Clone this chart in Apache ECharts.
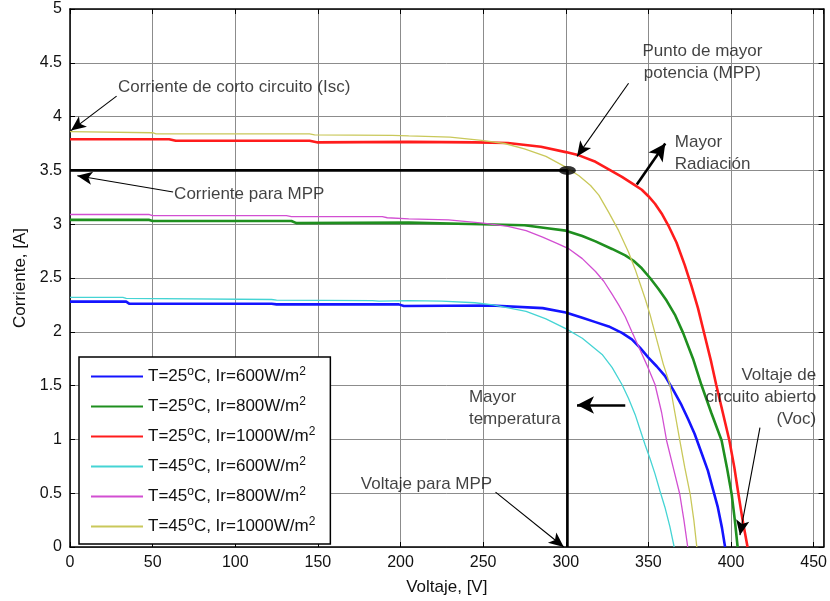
<!DOCTYPE html>
<html>
<head>
<meta charset="utf-8">
<title>Curvas I-V</title>
<script src="https://cdn.jsdelivr.net/npm/echarts@6/dist/echarts.min.js"></script>
<style>
html, body { margin: 0; padding: 0; background: #fff; }
#main { width: 830px; height: 601px; }
</style>
</head>
<body>
<div id="main"></div>
<script>
// curvas I-V: [voltaje V, corriente A]
var temps = [25, 25, 25, 45, 45, 45];
var irrad = [600, 800, 1000, 600, 800, 1000];

var curve25_600 = [[0,2.28],[34,2.28],[36,2.26],[122,2.26],[125,2.255],[199,2.255],[202,2.24],[255,2.245],[286,2.22],[300,2.18],[310,2.13],[318,2.09],[326,2.05],[334,1.99],[340,1.93],[345,1.85],[350,1.76],[355,1.68],[360,1.59],[365,1.46],[370,1.32],[374,1.19],[378,1.05],[382,0.88],[386,0.71],[389,0.54],[392,0.37],[394.5,0.18],[396.4,0]];
var curve25_800 = [[0,3.04],[48,3.04],[50,3.03],[134,3.03],[137,3.01],[205,3.015],[249,3.0],[275,2.99],[290,2.96],[300,2.94],[310,2.89],[318,2.84],[328,2.77],[336,2.71],[341,2.66],[346,2.59],[351,2.50],[356,2.40],[361,2.29],[366,2.16],[371,1.99],[377,1.75],[382,1.51],[388,1.25],[394.3,0.99],[397.5,0.74],[400.4,0.49],[402.3,0.25],[404,0]];
var curve25_1000 = [[0,3.79],[60,3.79],[64,3.775],[145,3.775],[150,3.76],[205,3.765],[245,3.76],[265,3.755],[285,3.72],[300,3.67],[308,3.64],[318,3.58],[326,3.51],[334,3.44],[342,3.36],[346,3.32],[350,3.26],[354,3.19],[358,3.10],[362,2.99],[367,2.83],[372,2.62],[376,2.43],[380,2.22],[384,1.97],[388,1.72],[391,1.51],[395,1.25],[399,0.99],[402,0.74],[404.5,0.49],[407,0.25],[410,0]];
var curve45_600 = [[0,2.32],[32,2.32],[34,2.31],[122,2.30],[125,2.295],[183,2.29],[187,2.285],[205,2.29],[225,2.285],[245,2.27],[256,2.25],[266,2.22],[276,2.19],[288,2.12],[300,2.03],[310,1.94],[322,1.79],[328,1.67],[334,1.51],[338,1.38],[342,1.23],[345,1.09],[348,0.95],[351,0.82],[354,0.68],[357,0.52],[360,0.37],[363,0.19],[365.6,0]];
var curve45_800 = [[0,3.09],[48,3.09],[50,3.08],[131,3.08],[134,3.07],[189,3.07],[192,3.06],[205,3.05],[229,3.04],[250,3.01],[265,2.98],[276,2.94],[286,2.88],[295,2.82],[302,2.77],[310,2.68],[318,2.56],[323,2.47],[328,2.35],[332,2.25],[336,2.14],[340,2.0],[345,1.83],[350,1.66],[354,1.51],[358,1.25],[361,0.99],[365,0.74],[369,0.49],[371.5,0.25],[373.8,0]];
var curve45_1000 = [[0,3.86],[50,3.85],[52,3.84],[145,3.84],[148,3.83],[195,3.825],[205,3.82],[230,3.81],[249,3.78],[263,3.75],[275,3.70],[288,3.63],[300,3.53],[308,3.45],[315,3.36],[320,3.27],[326,3.11],[332,2.94],[338,2.74],[342,2.58],[346,2.40],[348,2.31],[351,2.16],[355,1.93],[359,1.70],[363,1.51],[366,1.25],[369,0.99],[372,0.74],[375.3,0.49],[377.5,0.25],[379.3,0]];
var curves = [curve25_600, curve25_800, curve25_1000, curve45_600, curve45_800, curve45_1000];

var colors = ['#1414ff', '#1f8f1f', '#ff1c1c', '#45d4d4', '#d24fd2', '#c9c85a'];
var widths = [2.6, 2.6, 2.6, 1.3, 1.3, 1.3];

// punto de maxima potencia
var mppPath = [[0,3.5],[301,3.5],[301,0]];
var mppPoint = [301, 3.5];

// anotaciones
var notesText = ['Corriente de corto circuito (Isc)', 'Corriente para MPP', 'Punto de mayor\npotencia (MPP)', 'Mayor\nRadiación', 'Mayor\ntemperatura', 'Voltaje de\ncircuito abierto\n(Voc)', 'Voltaje para MPP'];
var notesAt = [[29,4.27],[63,3.28],[382.7,4.5],[366,3.66],[241.4,1.29],[451.5,1.39],[176,0.58]];
var notesAlign = ['left', 'left', 'center', 'left', 'left', 'right', 'left'];
var arrowFrom = [[28.2,4.19],[62.4,3.30],[338,4.31],[343,3.37],[336,1.32],[417.5,1.11],[257.5,0.51]];
var arrowTo = [[0.6,3.87],[4.4,3.45],[306.8,3.63],[360.2,3.75],[306.8,1.32],[405.4,0.11],[298.8,0.0]];
var arrowBold = [false, false, false, true, true, false, false];

var font = 'Liberation Sans, Arial, sans-serif';
var ink = '#111';
var names = temps.map(function (t, i) { return 'T=' + t + '°C, Ir=' + irrad[i] + 'W/m2'; });

var series = curves.map(function (c, i) {
  return {
    name: names[i], type: 'line', data: c, showSymbol: false, symbol: 'none',
    color: colors[i], lineStyle: { width: widths[i], color: colors[i] }, z: 3
  };
});

series.push({
  name: 'mpp', type: 'line', data: mppPath, symbol: 'none', showSymbol: false,
  lineStyle: { color: '#000', width: 2.6 }, z: 4
});
series.push({
  name: 'mppPunto', type: 'scatter', data: [mppPoint], symbol: 'circle',
  symbolSize: [17, 9], itemStyle: { color: '#000' }, z: 5
});

series.push({
  name: 'notas', type: 'scatter', symbolSize: 0, silent: true, z: 6,
  data: notesText.map(function (t, i) {
    return { name: t, value: notesAt[i], label: { align: notesAlign[i] } };
  }),
  label: {
    show: true, position: 'inside', formatter: '{b}', verticalAlign: 'middle',
    color: ink, fontSize: 17, lineHeight: 22, fontFamily: font
  },
  markLine: {
    silent: true, animation: false, symbol: ['none', 'arrow'],
    label: { show: false },
    data: arrowFrom.map(function (p, i) {
      var ls = { color: '#000', type: 'solid', width: arrowBold[i] ? 2.6 : 1.1 };
      return [
        { coord: p, symbol: 'none', lineStyle: ls },
        { coord: arrowTo[i], symbol: 'arrow', symbolSize: arrowBold[i] ? [13, 17] : [10, 15], lineStyle: ls }
      ];
    })
  }
});

var chart = echarts.init(document.getElementById('main'));
chart.setOption({
  animation: false,
  backgroundColor: '#fff',
  textStyle: { fontFamily: font },
  grid: { left: 70, right: 5, top: 9, bottom: 51 },
  legend: {
    data: names, orient: 'vertical', left: 79, top: 357,
    itemWidth: 52, itemHeight: 14, itemGap: 11,
    itemStyle: { opacity: 0 },
    backgroundColor: '#fff', borderColor: '#000', borderWidth: 1.5,
    padding: [9, 15, 9, 11],
    formatter: function (name) {
      var i = names.indexOf(name);
      return '{t|T=' + temps[i] + '}{s|o}{t|C, Ir=' + irrad[i] + 'W/m}{s|2}';
    },
    textStyle: {
      rich: {
        t: { fontSize: 17, color: ink, fontFamily: font },
        s: { fontSize: 12, color: ink, fontFamily: font, padding: [0, 0, 9, 0] }
      }
    }
  },
  xAxis: [{
    type: 'value', min: 0, max: 456, interval: 50, position: 'bottom',
    name: 'Voltaje, [V]', nameLocation: 'middle', nameGap: 32,
    nameTextStyle: { fontSize: 17, color: ink },
    axisLine: { show: true, onZero: false, lineStyle: { color: '#000', width: 1.5 } },
    axisTick: { inside: true, length: 5, lineStyle: { color: '#000' } },
    axisLabel: { color: ink, fontSize: 16, margin: 8, showMaxLabel: false },
    splitLine: { show: true, lineStyle: { color: '#8c8c8c', width: 1 } }
  }, {
    type: 'value', min: 0, max: 456, interval: 50, position: 'top',
    axisLine: { show: true, onZero: false, lineStyle: { color: '#000', width: 1.5 } },
    axisTick: { inside: true, length: 5, lineStyle: { color: '#000' } },
    axisLabel: { show: false }, splitLine: { show: false }
  }],
  yAxis: [{
    type: 'value', min: 0, max: 5, interval: 0.5, position: 'left',
    name: 'Corriente, [A]', nameLocation: 'middle', nameGap: 40,
    nameTextStyle: { fontSize: 17, color: ink },
    axisLine: { show: true, onZero: false, lineStyle: { color: '#000', width: 1.5 } },
    axisTick: { inside: true, length: 5, lineStyle: { color: '#000' } },
    axisLabel: { color: ink, fontSize: 16, margin: 8 },
    splitLine: { show: true, lineStyle: { color: '#8c8c8c', width: 1 } }
  }, {
    type: 'value', min: 0, max: 5, interval: 0.5, position: 'right',
    axisLine: { show: true, onZero: false, lineStyle: { color: '#000', width: 1.5 } },
    axisTick: { inside: true, length: 5, lineStyle: { color: '#000' } },
    axisLabel: { show: false }, splitLine: { show: false }
  }],
  series: series
});
</script>
</body>
</html>
